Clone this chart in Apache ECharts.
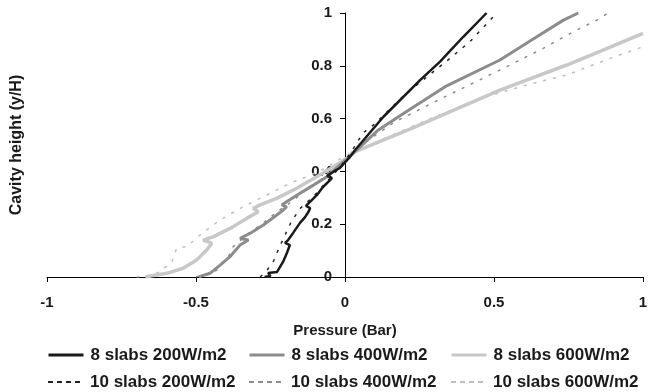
<!DOCTYPE html>
<html>
<head>
<meta charset="utf-8">
<script src="https://cdn.jsdelivr.net/npm/echarts@6/dist/echarts.min.js"></script>
<style>
html,body{margin:0;padding:0;background:#fff;}
#chart{width:652px;height:392px;}
</style>
</head>
<body>
<div id="chart"></div>
<script>
// ---- data (x = pressure in Bar, y = cavity height y/H) ----
var xTicks = [-1, -0.5, 0, 0.5, 1];
var yTicks = [0, 0.2, 0.4, 0.6, 0.8, 1];
var seriesNames = ['8 slabs 200W/m2', '8 slabs 400W/m2', '8 slabs 600W/m2',
                   '10 slabs 200W/m2', '10 slabs 400W/m2', '10 slabs 600W/m2'];

var s8_200 = [[-0.27,0],[-0.25,0.004],[-0.258,0.015],[-0.228,0.019],[-0.208,0.057],[-0.195,0.091],[-0.185,0.121],
  [-0.201,0.129],[-0.191,0.140],[-0.174,0.167],[-0.151,0.205],[-0.134,0.227],[-0.121,0.25],[-0.117,0.261],
  [-0.131,0.269],[-0.114,0.288],[-0.094,0.311],[-0.074,0.341],[-0.050,0.367],[-0.044,0.375],[-0.060,0.383],
  [-0.040,0.398],[-0.017,0.413],[0.017,0.455],[0.034,0.481],[0.129,0.607],[0.252,0.746],[0.319,0.816],
  [0.347,0.85],[0.397,0.91],[0.475,1.0]];
var s8_400 = [[-0.49,0],[-0.481,0.004],[-0.453,0.014],[-0.419,0.045],[-0.386,0.077],[-0.352,0.121],[-0.324,0.14],
  [-0.352,0.146],[-0.319,0.165],[-0.274,0.197],[-0.229,0.235],[-0.207,0.254],[-0.196,0.266],[-0.212,0.273],
  [-0.196,0.285],[-0.151,0.317],[-0.106,0.348],[-0.061,0.380],[-0.017,0.424],[0.01,0.45],[0.112,0.557],
  [0.2,0.622],[0.336,0.721],[0.52,0.822],[0.621,0.894],[0.733,0.973],[0.783,1.0]];
var s8_600 = [[-0.67,0],[-0.654,0.004],[-0.598,0.014],[-0.543,0.033],[-0.498,0.064],[-0.464,0.102],[-0.447,0.128],
  [-0.476,0.14],[-0.441,0.153],[-0.386,0.184],[-0.330,0.222],[-0.291,0.247],[-0.308,0.26],[-0.285,0.273],
  [-0.229,0.298],[-0.162,0.336],[-0.095,0.38],[-0.039,0.418],[0.006,0.45],[0.022,0.469],[0.224,0.563],
  [0.392,0.645],[0.52,0.708],[0.744,0.803],[0.856,0.855],[1.0,0.923]];
var s10_200 = [[-0.285,0],[-0.265,0.02],[-0.24,0.06],[-0.225,0.10],[-0.205,0.15],[-0.18,0.21],[-0.15,0.26],
  [-0.107,0.304],[-0.07,0.35],[-0.03,0.40],[0.0,0.44],[0.03,0.49],[0.06,0.545],[0.10,0.58],[0.2,0.69],
  [0.352,0.828],[0.419,0.891],[0.509,1.0]];
var s10_400 = [[-0.5,0],[-0.46,0.01],[-0.43,0.026],[-0.39,0.08],[-0.375,0.115],[-0.33,0.16],[-0.28,0.2],
  [-0.23,0.245],[-0.18,0.285],[-0.13,0.33],[-0.08,0.37],[-0.03,0.42],[0.01,0.46],[0.062,0.506],[0.168,0.588],
  [0.336,0.683],[0.52,0.784],[0.665,0.866],[0.766,0.929],[0.845,0.973],[0.883,1.0]];
var s10_600 = [[-0.7,0],[-0.66,0.005],[-0.62,0.02],[-0.58,0.06],[-0.565,0.109],[-0.531,0.115],[-0.48,0.165],
  [-0.419,0.216],[-0.36,0.255],[-0.30,0.29],[-0.24,0.323],[-0.185,0.355],[-0.128,0.38],[-0.07,0.41],
  [-0.02,0.445],[0.02,0.465],[0.1,0.51],[0.302,0.607],[0.487,0.688],[0.632,0.734],[0.744,0.765],
  [0.889,0.828],[1.0,0.872]];

// ---- styles ----
var FONT = 'Liberation Sans, Arial, Helvetica, sans-serif';
var colors = {c200:'#1a1a1a', c400:'#8c8c8c', c600:'#c8c8c8', d200:'#222222', d400:'#8c8c8c', d600:'#bdbdbd'};
var GRID = {left:47, right:9, top:13, bottom:115};
var PLOT_W = 652 - GRID.left - GRID.right;

function solid(name, data, color, w) {
  return {name:name, type:'line', data:data, symbol:'none', showSymbol:false, smooth:false,
    lineStyle:{color:color, width:w, type:'solid'}, itemStyle:{color:color}, silent:true, animation:false};
}
function dashed(name, data, color, w) {
  return {name:name, type:'line', data:data, symbol:'none', showSymbol:false, smooth:false,
    lineStyle:{color:color, width:w, type:[3,7]}, itemStyle:{color:color}, silent:true, animation:false};
}

var legendCols = [47, 248, 450];
var legendRows = [345, 372];
var legends = [];
seriesNames.forEach(function(n, i){
  var row = i < 3 ? 0 : 1, col = i % 3;
  legends.push({
    data:[n], left:legendCols[col], top:legendRows[row], orient:'horizontal',
    itemWidth:35, itemHeight:20, itemGap:0, padding:0, selectedMode:false,
    itemStyle:{color:'transparent', borderColor:'transparent', borderWidth:0, opacity:0},
    lineStyle: row === 1 ? {type:[5,4], width:2} : {width:3},
    textStyle:{fontFamily:FONT, fontWeight:'bold', fontSize:17, color:'#1a1a1a', lineHeight:20, padding:[0,0,0,2]}
  });
});

// y axis drawn through x = 0 (middle of the x range)
var yOffset = -PLOT_W * (0 - xTicks[0]) / (xTicks[xTicks.length-1] - xTicks[0]);

var chart = echarts.init(document.getElementById('chart'), null, {renderer:'canvas'});
chart.setOption({
  animation:false,
  backgroundColor:'#ffffff',
  grid:{left:GRID.left, right:GRID.right, top:GRID.top, bottom:GRID.bottom, containLabel:false, outerBoundsMode:'none'},
  legend: legends,
  xAxis:{
    type:'value', min:xTicks[0], max:xTicks[xTicks.length-1], interval:0.5,
    name:'Pressure (Bar)', nameLocation:'middle', nameGap:46,
    nameTextStyle:{fontFamily:FONT, fontWeight:'bold', fontSize:15, color:'#1a1a1a'},
    axisLine:{show:true, onZero:false, lineStyle:{color:'#000', width:1}},
    axisTick:{show:true, inside:false, length:5, lineStyle:{color:'#000'}},
    axisLabel:{fontFamily:FONT, fontWeight:'bold', fontSize:15, color:'#1a1a1a', margin:18,
      formatter:function(v){ return String(v); }},
    splitLine:{show:false}
  },
  yAxis:{
    type:'value', min:yTicks[0], max:yTicks[yTicks.length-1], interval:0.2,
    position:'left', offset:yOffset,
    name:'Cavity height (y/H)', nameLocation:'middle', nameGap:320,
    nameTextStyle:{fontFamily:FONT, fontWeight:'bold', fontSize:16, color:'#1a1a1a'},
    axisLine:{show:true, onZero:false, lineStyle:{color:'#000', width:1}},
    axisTick:{show:true, inside:false, length:5, lineStyle:{color:'#000'}},
    axisLabel:{fontFamily:FONT, fontWeight:'bold', fontSize:15, color:'#1a1a1a', margin:13,
      formatter:function(v){ return String(Math.round(v*10)/10); }},
    splitLine:{show:false}
  },
  series:[
    dashed(seriesNames[5], s10_600, colors.d600, 1.5),
    dashed(seriesNames[4], s10_400, colors.d400, 1.5),
    solid(seriesNames[2], s8_600, colors.c600, 3.5),
    solid(seriesNames[1], s8_400, colors.c400, 3),
    dashed(seriesNames[3], s10_200, colors.d200, 1.5),
    solid(seriesNames[0], s8_200, colors.c200, 2.5)
  ]
});
</script>
</body>
</html>
